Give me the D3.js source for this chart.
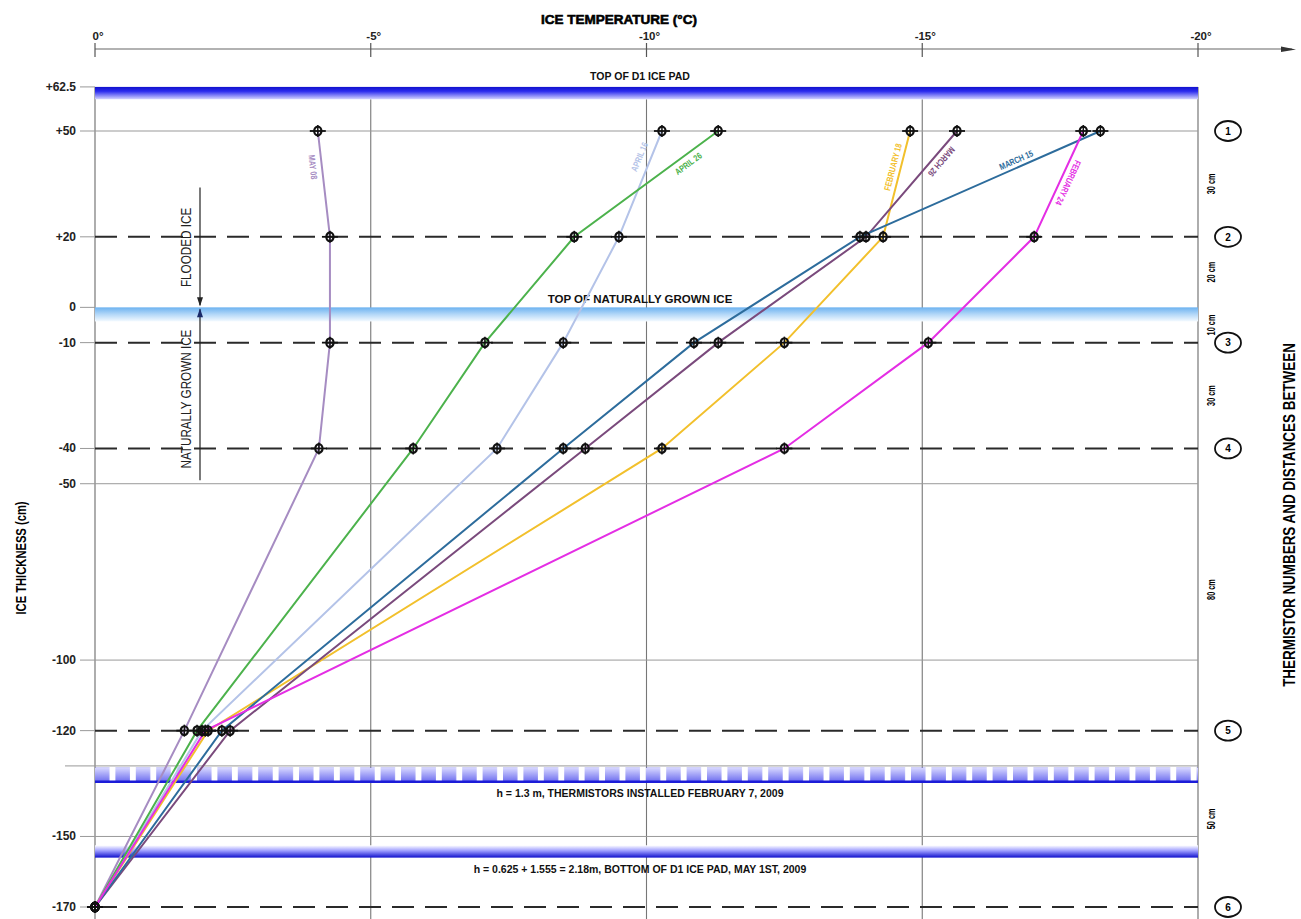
<!DOCTYPE html>
<html>
<head>
<meta charset="utf-8">
<script src="https://cdn.jsdelivr.net/npm/d3@7"></script>
<style>
  body { margin: 0; background: #fff; }
  svg { display: block; font-family: "Liberation Sans", Arial, sans-serif; }
</style>
</head>
<body>
<script>

// thermistor depths (cm) and their numbers
var levels = [50, 20, -10, -40, -120, -170];
var thermistorIds = ["1", "2", "3", "4", "5", "6"];

// temperature profiles read at each thermistor (degC)
var seriesNames = ["MAY 08", "APRIL 16", "APRIL 26", "FEBRUARY 18", "MARCH 26", "MARCH 15", "FEBRUARY 24"];
var may08   = [-4.04, -4.26, -4.26, -4.06, -1.62, 0];
var april16 = [-10.28, -9.50, -8.49, -7.29, -1.94, 0];
var april26 = [-11.30, -8.69, -7.07, -5.77, -1.85, 0];
var feb18   = [-14.78, -14.29, -12.50, -10.28, -2.05, 0];
var march26 = [-15.63, -13.98, -11.30, -8.89, -2.45, 0];
var march15 = [-18.23, -13.87, -10.86, -8.49, -2.30, 0];
var feb24   = [-17.92, -17.03, -15.11, -12.50, -2.00, 0];
var seriesValues = [may08, april16, april26, feb18, march26, march15, feb24];
var seriesColors = ["#a68cc2", "#b4c3e8", "#4cb24c", "#f2c02c", "#7a4a7c", "#2d6c9c", "#e42ee4"];

// axes
var tempTicks = [0, -5, -10, -15, -20];
var depthTicks = [62.5, 50, 20, 0, -10, -40, -50, -100, -120, -150, -170];
var solidGrid = [50, -50, -100, -130, -150];
var dashedLevels = [20, -10, -40, -120, -170];

// spacing between thermistors
var spacingLabels = ["30 cm", "20 cm", "10 cm", "30 cm", "80 cm", "50 cm"];
var spacingAt = [35, 10, -5, -25, -80, -145];

// ice layers
var bandNames = ["TOP OF D1 ICE PAD", "TOP OF NATURALLY GROWN ICE",
  "h = 1.3 m, THERMISTORS INSTALLED FEBRUARY 7, 2009",
  "h = 0.625 + 1.555 = 2.18m, BOTTOM OF D1 ICE PAD, MAY 1ST, 2009"];
var bandTop = [62.5, 0, -130.5, -152.5];
var bandBottom = [59, -4, -134.5, -156];

var W = 1301, H = 919;
var x = d3.scaleLinear().domain([0, -20]).range([95, 1198]);
var y = d3.scaleLinear().domain([50, -170]).range([131, 907]);

var svg = d3.select("body").append("svg").attr("width", W).attr("height", H);
var defs = svg.append("defs");

function grad(id, stops) {
  var g = defs.append("linearGradient").attr("id", id)
    .attr("x1", 0).attr("y1", 0).attr("x2", 0).attr("y2", 1);
  stops.forEach(function(s) {
    g.append("stop").attr("offset", s[0]).attr("stop-color", s[1]);
  });
}
grad("gTop", [[0, "#1212cc"], [0.35, "#2a2aee"], [1, "#d4d4ff"]]);
grad("gNat", [[0, "#6cb2f0"], [0.5, "#b4d8f8"], [1, "#f4faff"]]);
grad("gDash", [[0, "#d8d8ff"], [1, "#4040e8"]]);
grad("gBot", [[0, "#ffffff"], [0.45, "#9c9cff"], [1, "#1010cc"]]);

var pat = defs.append("pattern").attr("id", "pDash").attr("patternUnits", "userSpaceOnUse")
  .attr("x", x(0)).attr("y", y(bandTop[2])).attr("width", 20.4).attr("height", 20);
pat.append("rect").attr("width", 14.5).attr("height", 20).attr("fill", "url(#gDash)");

var X0 = x(0), X1 = x(-20);

// condensed text: rotate, then squeeze along the baseline
function narrow(tx, ty, ang, sx) {
  return "translate(" + tx + "," + ty + ") rotate(" + ang + ") scale(" + sx + ",1)";
}

// ---- top axis
svg.append("text").attr("x", 619).attr("y", 24).attr("text-anchor", "middle")
  .style("font-size", "13.5px").style("font-weight", "bold")
  .attr("stroke", "#000").attr("stroke-width", 0.6).text("ICE TEMPERATURE (°C)");
svg.append("line").attr("x1", X0).attr("x2", 1292).attr("y1", 49).attr("y2", 49)
  .attr("stroke", "#666").attr("stroke-width", 1.2);
svg.append("path").attr("d", "M1281,46.5 L1296,49.5 L1281,52 Z").attr("fill", "#333");
svg.selectAll(".tt").data(tempTicks).enter().append("line")
  .attr("x1", x).attr("x2", x).attr("y1", 43).attr("y2", 57)
  .attr("stroke", "#555").attr("stroke-width", 1.2);
svg.selectAll(".tl").data(tempTicks).enter().append("text")
  .attr("x", function(d) { return x(d) + 3; }).attr("y", 40).attr("text-anchor", "middle")
  .style("font-size", "11.5px").style("font-weight", "bold").attr("fill", "#222")
  .text(function(d) { return d + "°"; });

// ---- frame and grid
svg.append("line").attr("x1", X0).attr("x2", X0).attr("y1", y(62.5)).attr("y2", H)
  .attr("stroke", "#777").attr("stroke-width", 1.2);
svg.append("line").attr("x1", X1).attr("x2", X1).attr("y1", y(62.5)).attr("y2", H)
  .attr("stroke", "#777").attr("stroke-width", 1.2);
svg.selectAll(".vg").data([-5, -10, -15]).enter().append("line")
  .attr("x1", x).attr("x2", x).attr("y1", y(bandBottom[0])).attr("y2", H)
  .attr("stroke", "#777").attr("stroke-width", 1.1);
svg.selectAll(".hg").data(solidGrid).enter().append("line")
  .attr("x1", function(d) { return d == -130 ? 65 : X0; }).attr("x2", X1)
  .attr("y1", y).attr("y2", y).attr("stroke", "#999").attr("stroke-width", 1);

// left ticks and labels
svg.selectAll(".lt").data(depthTicks).enter().append("line")
  .attr("x1", 80).attr("x2", X0).attr("y1", y).attr("y2", y)
  .attr("stroke", "#999").attr("stroke-width", 1);
svg.selectAll(".ll").data(depthTicks).enter().append("text")
  .attr("x", 76).attr("y", function(d) { return y(d) + 4; }).attr("text-anchor", "end")
  .style("font-size", "12px").style("font-weight", "bold").attr("fill", "#222")
  .text(function(d) { return d > 0 ? "+" + d : d; });
svg.append("text")
  .attr("transform", narrow(26, 558, -90, 0.8)).attr("text-anchor", "middle")
  .style("font-size", "14px").style("font-weight", "bold").text("ICE THICKNESS (cm)");

// ---- bands
svg.append("rect").attr("x", X0).attr("width", X1 - X0)
  .attr("y", y(bandTop[0])).attr("height", y(bandBottom[0]) - y(bandTop[0])).attr("fill", "url(#gTop)");
svg.append("rect").attr("x", X0).attr("width", X1 - X0)
  .attr("y", y(bandTop[1])).attr("height", y(bandBottom[1]) - y(bandTop[1])).attr("fill", "url(#gNat)");
svg.append("rect").attr("x", X0).attr("width", X1 - X0)
  .attr("y", y(bandTop[2])).attr("height", y(bandBottom[2]) - y(bandTop[2])).attr("fill", "url(#pDash)");
svg.append("line").attr("x1", X0).attr("x2", X1).attr("y1", y(bandBottom[2])).attr("y2", y(bandBottom[2]))
  .attr("stroke", "#1c1cd8").attr("stroke-width", 2.5);
svg.append("rect").attr("x", X0).attr("width", X1 - X0)
  .attr("y", y(bandTop[3])).attr("height", y(bandBottom[3]) - y(bandTop[3])).attr("fill", "url(#gBot)");

var bandLabelY = [y(bandTop[0]) - 7, y(bandTop[1]) - 4, y(bandBottom[2]) + 15, y(bandBottom[3]) + 15];
svg.selectAll(".bl").data(bandNames).enter().append("text")
  .attr("x", 640).attr("y", function(d, i) { return bandLabelY[i]; }).attr("text-anchor", "middle")
  .style("font-size", function(d, i) { return i == 1 ? "11.5px" : "10.5px"; })
  .style("font-weight", "bold").attr("fill", "#111")
  .text(function(d) { return d; });

// ---- thermistor levels
svg.selectAll(".dl").data(dashedLevels).enter().append("line")
  .attr("x1", X0).attr("x2", X1).attr("y1", y).attr("y2", y)
  .attr("stroke", "#2a2a2a").attr("stroke-width", 2).attr("stroke-dasharray", "22,11");

// flooded / naturally grown ice annotation
svg.append("line").attr("x1", 200).attr("x2", 200).attr("y1", y(34)).attr("y2", y(0) - 2)
  .attr("stroke", "#222").attr("stroke-width", 1.2);
svg.append("path").attr("d", "M197," + (y(0) - 10) + " L203," + (y(0) - 10) + " L200," + (y(0) - 1) + "Z").attr("fill", "#222");
svg.append("line").attr("x1", 200).attr("x2", 200).attr("y1", y(0) + 2).attr("y2", y(-49))
  .attr("stroke", "#222").attr("stroke-width", 1.2);
svg.append("path").attr("d", "M197," + (y(0) + 10) + " L203," + (y(0) + 10) + " L200," + (y(0) + 1) + "Z").attr("fill", "#1a2a6a");
svg.append("text")
  .attr("transform", narrow(191, y(17), -90, 0.78)).attr("text-anchor", "middle")
  .style("font-size", "15px").attr("fill", "#222").text("FLOODED ICE");
svg.append("text")
  .attr("transform", narrow(191, y(-26), -90, 0.78)).attr("text-anchor", "middle")
  .style("font-size", "15px").attr("fill", "#222").text("NATURALLY GROWN ICE");

// ---- right side: thermistor numbers and spacing
var th = svg.selectAll(".th").data(levels).enter().append("g")
  .attr("transform", function(d) { return "translate(1228," + y(d) + ")"; });
th.append("ellipse").attr("rx", 13).attr("ry", 10).attr("fill", "#fff")
  .attr("stroke", "#111").attr("stroke-width", 1.8);
th.append("text").attr("y", 3.8).attr("text-anchor", "middle")
  .style("font-size", "10px").style("font-weight", "bold")
  .text(function(d, i) { return thermistorIds[i]; });
svg.selectAll(".sp").data(spacingLabels).enter().append("text")
  .attr("transform", function(d, i) { return narrow(1215, y(spacingAt[i]), -90, 0.7); })
  .attr("text-anchor", "middle").style("font-size", "10.5px").style("font-weight", "bold")
  .text(function(d) { return d; });
svg.append("text")
  .attr("transform", narrow(1295, 515, -90, 0.84)).attr("text-anchor", "middle")
  .style("font-size", "16px").style("font-weight", "bold").text("THERMISTOR NUMBERS AND DISTANCES BETWEEN");

// ---- temperature profiles
var line = d3.line()
  .x(function(d) { return x(d[1]); })
  .y(function(d) { return y(d[0]); });
var series = seriesValues.map(function(vals, i) {
  return { name: seriesNames[i], color: seriesColors[i], pts: levels.map(function(l, j) { return [l, vals[j]]; }) };
});
svg.selectAll(".prof").data(series).enter().append("path")
  .attr("d", function(d) { return line(d.pts); })
  .attr("fill", "none").attr("stroke", function(d) { return d.color; }).attr("stroke-width", 2);

// labels along the first segment of each profile
var labelLayout = [
  { t: 0.34, dx: -9, dy: 0, up: false },
  { t: 0.245, dx: -12, dy: 0, up: true },
  { t: 0.27, dx: 9, dy: 4, up: true },
  { t: 0.34, dx: -8, dy: 0, up: true },
  { t: 0.27, dx: 9, dy: 2, up: false },
  { t: 0.35, dx: 0, dy: -8, up: true },
  { t: 0.49, dx: 9, dy: 0, up: false }
];
svg.selectAll(".plab").data(series).enter().append("text")
  .attr("transform", function(d, i) {
    var L = labelLayout[i];
    var ax = x(d.pts[0][1]), ay = y(d.pts[0][0]), bx = x(d.pts[1][1]), by = y(d.pts[1][0]);
    var cx = ax + (bx - ax) * L.t + L.dx, cy = ay + (by - ay) * L.t + L.dy;
    var ang = L.up ? Math.atan2(ay - by, ax - bx) : Math.atan2(by - ay, bx - ax);
    return narrow(cx, cy, ang * 180 / Math.PI, 0.78);
  })
  .attr("text-anchor", "middle").attr("dy", "0.35em")
  .style("font-size", "9px").style("font-weight", "bold").attr("fill", function(d) { return d.color; })
  .text(function(d) { return d.name; });

// thermistor reading markers
var pts = [];
series.forEach(function(s) { s.pts.forEach(function(p) { pts.push(p); }); });
var mk = svg.selectAll(".mk").data(pts).enter().append("g")
  .attr("transform", function(d) { return "translate(" + x(d[1]) + "," + y(d[0]) + ")"; });
mk.append("line").attr("x1", -8).attr("x2", 8).attr("stroke", "#111").attr("stroke-width", 1.8);
mk.append("ellipse").attr("rx", 3.6).attr("ry", 4.4).attr("fill", "none")
  .attr("stroke", "#111").attr("stroke-width", 2.2);
mk.append("line").attr("y1", -6).attr("y2", 6).attr("stroke", "#111").attr("stroke-width", 1.5);

</script>
</body>
</html>
